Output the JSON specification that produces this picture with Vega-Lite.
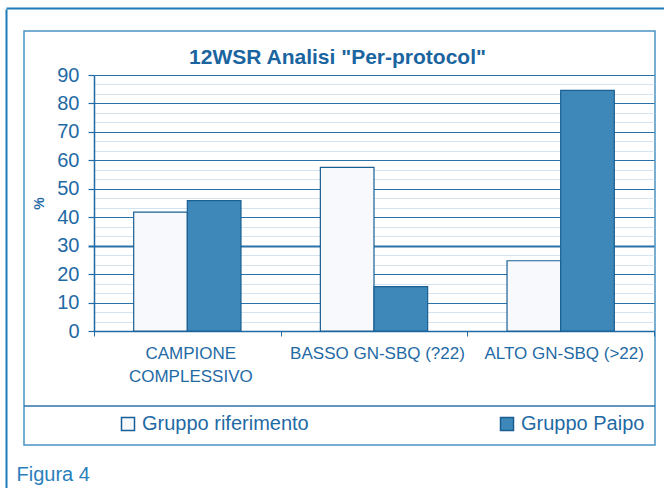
{
  "$schema": "https://vega.github.io/schema/vega-lite/v6.json",
  "width": 631,
  "height": 414,
  "autosize": "none",
  "padding": {"left": 24, "top": 31, "right": 9, "bottom": 43},
  "background": "white",
  "title": {
    "text": "12WSR Analisi \"Per-protocol\"",
    "anchor": "middle",
    "frame": "group",
    "offset": -79,
    "baseline": "alphabetic",
    "font": "Liberation Sans",
    "fontSize": 21,
    "fontWeight": "bold",
    "color": "#1a64a0",
    "dx": -2
  },
  "config": {"view": {"stroke": "#4a92c4", "strokeWidth": 1.5}},
  "layer": [
    {
      "data": {
        "values": [
          {"categoria": "CAMPIONE COMPLESSIVO", "gruppo": "Gruppo riferimento", "valore": 41.8},
          {"categoria": "CAMPIONE COMPLESSIVO", "gruppo": "Gruppo Paipo", "valore": 45.8},
          {"categoria": "BASSO GN-SBQ (?22)", "gruppo": "Gruppo riferimento", "valore": 57.5},
          {"categoria": "BASSO GN-SBQ (?22)", "gruppo": "Gruppo Paipo", "valore": 15.6},
          {"categoria": "ALTO GN-SBQ (>22)", "gruppo": "Gruppo riferimento", "valore": 24.7},
          {"categoria": "ALTO GN-SBQ (>22)", "gruppo": "Gruppo Paipo", "valore": 84.6}
        ]
      },
      "mark": {"type": "bar", "stroke": "#1a5f94", "strokeWidth": 1.2},
      "encoding": {
        "x": {
          "field": "categoria",
          "type": "nominal",
          "sort": ["CAMPIONE COMPLESSIVO", "BASSO GN-SBQ (?22)", "ALTO GN-SBQ (>22)"],
          "scale": {"range": [70, 630], "paddingInner": 0, "paddingOuter": 0},
          "axis": {
            "orient": "bottom",
            "offset": -114,
            "tickBand": "extent",
            "tickSize": 5,
            "tickColor": "#1f6aa5",
            "domainColor": "#1f6aa5",
            "domainWidth": 1.5,
            "labelAngle": 0,
            "labelFont": "Liberation Sans",
            "labelFontSize": 17,
            "labelColor": "#1f6aa5",
            "labelPadding": 9,
            "labelLineHeight": 23,
            "labelOffset": 3,
            "labelLimit": 400,
            "labelExpr": "datum.label == 'CAMPIONE COMPLESSIVO' ? ['CAMPIONE', 'COMPLESSIVO'] : datum.label",
            "title": "Figura 4",
            "titleX": -8,
            "titleY": 149,
            "titleAlign": "left",
            "titleAnchor": "start",
            "titleBaseline": "alphabetic",
            "titleFont": "Liberation Sans",
            "titleFontSize": 20,
            "titleFontWeight": "normal",
            "titleColor": "#2a80bc"
          }
        },
        "xOffset": {
          "field": "gruppo",
          "type": "nominal",
          "sort": ["Gruppo riferimento", "Gruppo Paipo"],
          "scale": {"paddingInner": 0, "paddingOuter": 0.74}
        },
        "y": {
          "field": "valore",
          "type": "quantitative",
          "scale": {"domain": [0, 90], "range": [300, 44], "nice": false, "zero": true},
          "axis": {
            "orient": "left",
            "offset": -70,
            "values": [0, 3.33, 6.67, 10, 13.33, 16.67, 20, 23.33, 26.67, 30, 33.33, 36.67, 40, 43.33, 46.67, 50, 53.33, 56.67, 60, 63.33, 66.67, 70, 73.33, 76.67, 80, 83.33, 86.67, 90],
            "labelExpr": "datum.value % 10 === 0 ? datum.label : ''",
            "labelOverlap": false,
            "labelFont": "Liberation Sans",
            "labelFontSize": 20,
            "labelColor": "#1f6aa5",
            "labelPadding": 9,
            "tickSize": 6,
            "tickColor": "#1f6aa5",
            "tickOpacity": {"condition": {"test": "datum.value % 10 === 0", "value": 1}, "value": 0},
            "tickWidth": {"condition": {"test": "datum.value === 30", "value": 2}, "value": 1.2},
            "domainColor": "#1f6aa5",
            "domainWidth": 1.5,
            "grid": true,
            "gridColor": {"condition": {"test": "datum.value % 10 === 0", "value": "#2a72aa"}, "value": "#d3e3f0"},
            "gridWidth": {"condition": {"test": "datum.value === 30", "value": 2}, "value": 1.2},
            "title": "%",
            "titleFont": "Liberation Sans",
            "titleFontSize": 14,
            "titleFontWeight": "bold",
            "titleColor": "#1f6aa5",
            "titlePadding": 10
          }
        },
        "fill": {
          "field": "gruppo",
          "type": "nominal",
          "scale": {"domain": ["Gruppo riferimento", "Gruppo Paipo"], "range": ["#f7f9fc", "#3d88b8"]},
          "legend": {
            "orient": "none",
            "legendX": 94,
            "legendY": 383,
            "direction": "horizontal",
            "title": null,
            "symbolType": "square",
            "symbolSize": 169,
            "symbolStrokeColor": "#1a5f94",
            "symbolStrokeWidth": 1.5,
            "labelFont": "Liberation Sans",
            "labelFontSize": 20,
            "labelColor": "#1f6aa5",
            "labelOffset": 4,
            "labelLimit": 300,
            "columnPadding": 188,
            "padding": 0
          }
        }
      }
    },
    {
      "data": {"values": [{"linea": "separatore"}]},
      "mark": {"type": "rule", "color": "#2a72aa", "strokeWidth": 1.5},
      "encoding": {
        "y": {
          "datum": -26.37,
          "type": "quantitative",
          "scale": {"domain": [0, 90], "range": [300, 44], "nice": false, "zero": true},
          "axis": null
        }
      }
    },
    {
      "data": {"values": [{"cornice": "esterna"}]},
      "mark": {"type": "point", "opacity": 0},
      "encoding": {
        "x": {
          "datum": 0,
          "type": "quantitative",
          "scale": {"domain": [0, 1], "range": [-18, 700], "nice": false, "zero": false},
          "axis": {"orient": "top", "offset": 23, "ticks": false, "labels": false, "grid": false, "title": null, "domainColor": "#1f7ab8", "domainWidth": 2}
        },
        "y": {
          "datum": 0,
          "type": "quantitative",
          "scale": {"domain": [0, 1], "range": [-22, 470], "nice": false, "zero": false},
          "axis": {"orient": "left", "offset": 18, "ticks": false, "labels": false, "grid": false, "title": null, "domainColor": "#1f7ab8", "domainWidth": 2}
        }
      }
    }
  ],
  "resolve": {
    "scale": {"x": "independent", "y": "independent"},
    "axis": {"x": "independent", "y": "independent"}
  }
}
